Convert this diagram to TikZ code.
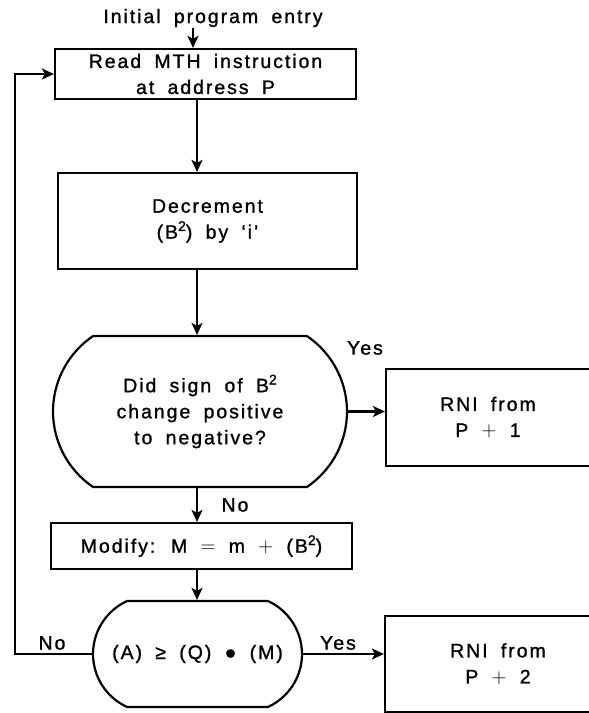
\documentclass[tikz,border=0pt]{standalone}
\usepackage{fontspec}
\setmainfont{Liberation Sans}[LetterSpace=10, WordSpace=1.8, FakeBold=1.2]
\usetikzlibrary{arrows.meta,shapes.misc,positioning}
\newcommand{\sqtwo}{\raisebox{0.75ex}{\fontsize{14}{14}\selectfont 2}}

\begin{document}
\begin{tikzpicture}[x=1pt, y=1pt,
        every node/.style={font=\fontsize{19.5}{26}\selectfont, align=center},
        box/.style={draw=black, line width=2.2pt, rectangle, inner sep=0pt},
        dec/.style={draw=black, line width=2.2pt, rounded rectangle, inner sep=0pt},
        flow/.style={draw=black, line width=2.2pt, -{Stealth[length=12pt, width=11pt, inset=3pt]}}]
        \useasboundingbox (0,0) rectangle (589,-713);
        \clip (0,0) rectangle (589,-713);

	\coordinate (spine) at (197,0);
	\coordinate (feed) at (193,-28);
	\coordinate (back) at (15,0);

	\node (entry) at (213,-18) {Initial program entry};

	\node[box, minimum width=301, minimum height=50] (read) at (205.5,-74) {Read MTH instruction\\at address P};

	\node[box, minimum width=299, minimum height=96] (decr) at (207.5,-221) {Decrement\\(B\sqtwo) by `i'};

	\node[dec, minimum width=294, minimum height=151, rounded rectangle arc length=112] (sign) at (200,-411.5) {Did sign of B\sqtwo\\change positive\\to negative?};

	\node[box, minimum width=204, minimum height=97] (rni1) at (488,-417.5) {RNI from\\P $+$ 1};

	\node[box, minimum width=301, minimum height=46] (mod) at (201.5,-546) {Modify: M $=$ m $+$ (B\sqtwo)};

	\node[dec, minimum width=209, minimum height=106, rounded rectangle arc length=131] (cmp) at (197.5,-654) {(A) ≥ (Q) ● (M)};

	\node[box, minimum width=226, minimum height=96] (rni2) at (498,-664) {RNI from\\P $+$ 2};

	\draw[flow] (feed) -- (feed |- read.north);
	\draw[flow] (read.south -| spine) -- (decr.north -| spine);
	\draw[flow] (decr.south -| spine) -- (sign.north -| spine);
	\draw[flow] (sign.south -| spine) -- (mod.north -| spine);
	\draw[flow] (mod.south -| spine) -- (cmp.north -| spine);
	\draw[flow] (sign.east) -- (sign.east -| rni1.west);
	\draw[flow] (cmp.east) -- (cmp.east -| rni2.west);
	\draw[flow] (cmp.west) -- (cmp.west -| back) |- (read.west);

	\node (yes1) at (365,-348) {Yes};
	\node (no1) at (235,-505) {No};
	\node (no2) at (52,-643) {No};
	\node (yes2) at (338,-643) {Yes};

\end{tikzpicture}
\end{document}
